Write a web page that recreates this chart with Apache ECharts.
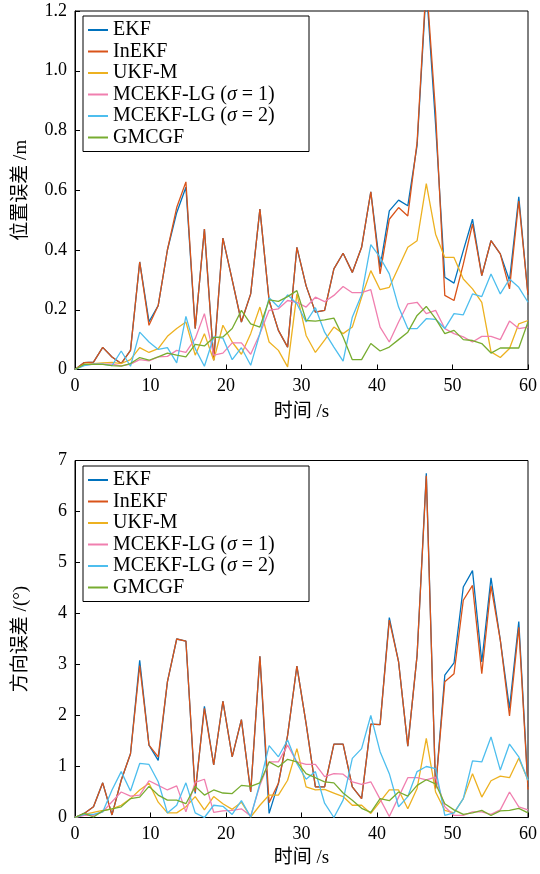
<!DOCTYPE html>
<html>
<head>
<meta charset="utf-8">
<title>误差对比</title>
<script src="https://cdn.jsdelivr.net/npm/echarts@6/dist/echarts.min.js"></script>
<style>
  html, body { margin: 0; padding: 0; background: #fff; }
  #main { width: 540px; height: 874px; }
</style>
</head>
<body>
<div id="main"></div>
<script>
// 采样时间 (s)
var times = [0, 1.22, 2.45, 3.67, 4.9, 6.12, 7.35, 8.57, 9.8, 11.02, 12.24, 13.47, 14.69, 15.92, 17.14, 18.37,
  19.59, 20.82, 22.04, 23.27, 24.49, 25.71, 26.94, 28.16, 29.39, 30.61, 31.84, 33.06, 34.29, 35.51, 36.73, 37.96,
  39.18, 40.41, 41.63, 42.86, 44.08, 45.31, 46.53, 47.76, 48.98, 50.2, 51.43, 52.65, 53.88, 55.1, 56.33, 57.55, 58.78, 60];

var names = ['EKF', 'InEKF', 'UKF-M', 'MCEKF-LG (σ = 1)', 'MCEKF-LG (σ = 2)', 'GMCGF'];
var colors = ['#0072BD', '#D95319', '#EDB120', '#F07FAF', '#4DBEEE', '#77AC30'];

// 位置误差 /m
var posEKF = [0, 0.023, 0.025, 0.074, 0.042, 0.02, 0.064, 0.36, 0.16, 0.214, 0.40, 0.525, 0.61, 0.137, 0.47, 0.031,
  0.44, 0.30, 0.159, 0.253, 0.537, 0.231, 0.131, 0.075, 0.409, 0.28, 0.192, 0.198, 0.337, 0.389, 0.325, 0.409,
  0.595, 0.342, 0.531, 0.567, 0.548, 0.75, 1.28, 0.82, 0.309, 0.289, 0.398, 0.503, 0.314, 0.431, 0.387, 0.298, 0.578, 0.25];
var posInEKF = [0, 0.023, 0.025, 0.074, 0.042, 0.02, 0.064, 0.36, 0.148, 0.214, 0.40, 0.542, 0.628, 0.137, 0.47, 0.031,
  0.44, 0.30, 0.159, 0.253, 0.537, 0.231, 0.131, 0.075, 0.409, 0.28, 0.192, 0.198, 0.337, 0.389, 0.325, 0.409,
  0.595, 0.32, 0.503, 0.542, 0.514, 0.76, 1.3, 0.86, 0.248, 0.231, 0.353, 0.487, 0.314, 0.431, 0.387, 0.27, 0.564, 0.25];
var posUKF = [0, 0.017, 0.02, 0.022, 0.024, 0.02, 0.033, 0.073, 0.057, 0.07, 0.111, 0.137, 0.159, 0.048, 0.12, 0.031,
  0.148, 0.092, 0.051, 0.12, 0.209, 0.092, 0.064, 0.009, 0.253, 0.114, 0.057, 0.098, 0.142, 0.12, 0.142, 0.242,
  0.331, 0.267, 0.275, 0.342, 0.409, 0.431, 0.622, 0.453, 0.375, 0.375, 0.303, 0.27, 0.225, 0.059, 0.04, 0.07, 0.153, 0.164];
var posMC1 = [0, 0.015, 0.018, 0.018, 0.018, 0.012, 0.018, 0.033, 0.029, 0.042, 0.044, 0.064, 0.057, 0.103, 0.187, 0.048,
  0.055, 0.089, 0.089, 0.051, 0.12, 0.198, 0.203, 0.231, 0.225, 0.209, 0.242, 0.227, 0.248, 0.278, 0.257, 0.257,
  0.267, 0.142, 0.092, 0.159, 0.22, 0.225, 0.187, 0.198, 0.137, 0.12, 0.109, 0.092, 0.111, 0.111, 0.1, 0.162, 0.137, 0.142];
var posMC2 = [0, 0.013, 0.018, 0.018, 0.013, 0.062, 0.011, 0.125, 0.092, 0.067, 0.073, 0.022, 0.178, 0.07, 0.011, 0.109,
  0.105, 0.033, 0.073, 0.014, 0.12, 0.24, 0.209, 0.25, 0.22, 0.159, 0.207, 0.125, 0.075, 0.028, 0.175, 0.25,
  0.418, 0.375, 0.32, 0.209, 0.137, 0.137, 0.17, 0.168, 0.137, 0.187, 0.183, 0.253, 0.244, 0.32, 0.253, 0.303, 0.275, 0.225];
var posGM = [0, 0.017, 0.017, 0.017, 0.013, 0.011, 0.02, 0.04, 0.031, 0.042, 0.055, 0.048, 0.042, 0.084, 0.079, 0.107,
  0.109, 0.137, 0.198, 0.153, 0.142, 0.233, 0.228, 0.244, 0.264, 0.164, 0.162, 0.166, 0.172, 0.109, 0.033, 0.033,
  0.087, 0.062, 0.075, 0.1, 0.125, 0.181, 0.211, 0.17, 0.12, 0.131, 0.1, 0.097, 0.087, 0.055, 0.072, 0.072, 0.072, 0.159];

// 方向误差 /(°)
var attEKF = [0, 0.08, 0.21, 0.68, 0.05, 0.73, 1.25, 3.08, 1.42, 1.12, 2.66, 3.5, 3.46, 0.47, 2.18, 1.03,
  2.28, 1.19, 1.92, 0.5, 3.16, 0.08, 0.67, 1.61, 2.97, 1.84, 0.6, 0.6, 1.44, 1.44, 0.6, 0.37,
  1.83, 1.82, 3.92, 3.05, 1.4, 3.18, 6.75, 0.57, 2.79, 3.03, 4.52, 4.84, 3.05, 4.7, 3.48, 2.14, 3.84, 0.6];
var attInEKF = [0, 0.08, 0.21, 0.68, 0.05, 0.73, 1.25, 2.98, 1.42, 1.19, 2.66, 3.5, 3.46, 0.5, 2.14, 1.03,
  2.28, 1.19, 1.92, 0.5, 3.16, 0.29, 0.67, 1.61, 2.97, 1.84, 0.6, 0.6, 1.44, 1.44, 0.6, 0.37,
  1.83, 1.82, 3.87, 3.05, 1.4, 3.18, 6.7, 0.57, 2.66, 2.82, 4.26, 4.55, 2.82, 4.54, 3.48, 1.99, 3.73, 0.55];
var attUKF = [0, 0.06, 0.1, 0.14, 0.17, 0.24, 0.37, 0.54, 0.67, 0.3, 0.09, 0.09, 0.21, 0.41, 0.15, 0.41,
  0.27, 0.16, 0.3, 0.01, 0.24, 0.44, 0.44, 0.73, 1.35, 0.6, 0.54, 0.55, 0.48, 0.41, 0.24, 0.24,
  0.08, 0.31, 0.54, 0.54, 0.17, 0.57, 1.55, 0.5, 0.14, 0.09, 0.37, 0.86, 0.4, 0.72, 0.81, 0.78, 1.16, 0.73];
var attMC1 = [0, 0.04, 0.04, 0.11, 0.31, 0.5, 0.42, 0.44, 0.72, 0.63, 0.54, 0.62, 0.11, 0.69, 0.75, 0.1,
  0.13, 0.14, 0.17, 0.03, 0.63, 1.09, 1.09, 1.42, 1.09, 1.04, 1.04, 0.8, 0.86, 0.85, 0.7, 0.65,
  0.7, 0.36, 0.02, 0.4, 0.78, 0.78, 0.74, 0.79, 0.21, 0.04, 0.04, 0.11, 0.11, 0.06, 0.15, 0.5, 0.21, 0.15];
var attMC2 = [0, 0.06, 0.06, 0.11, 0.54, 0.9, 0.52, 1.06, 1.04, 0.7, 0.09, 0.24, 0.68, 0.09, 0.0, 0.24,
  0.22, 0.06, 0.33, 0.01, 0.67, 1.41, 1.19, 1.52, 1.06, 0.75, 0.9, 0.28, 0.0, 0.34, 1.16, 1.35,
  2.0, 1.29, 0.86, 0.21, 0.41, 0.9, 1.0, 0.96, 0.04, 0.09, 0.37, 1.11, 1.09, 1.58, 0.93, 1.44, 1.19, 0.73];
var attGM = [0, 0.08, 0.01, 0.13, 0.17, 0.21, 0.37, 0.4, 0.61, 0.44, 0.34, 0.34, 0.27, 0.61, 0.44, 0.54,
  0.48, 0.47, 0.63, 0.61, 0.68, 1.09, 0.99, 1.14, 1.09, 0.86, 0.78, 0.7, 0.68, 0.48, 0.34, 0.18,
  0.1, 0.37, 0.33, 0.5, 0.42, 0.63, 0.74, 0.66, 0.27, 0.15, 0.06, 0.09, 0.14, 0.04, 0.13, 0.14, 0.18, 0.09];

var posAll = [posEKF, posInEKF, posUKF, posMC1, posMC2, posGM];
var attAll = [attEKF, attInEKF, attUKF, attMC1, attMC2, attGM];

var font = "'Liberation Serif', 'Noto Sans CJK SC', serif";

var dom = document.getElementById('main');
var myChart = echarts.init(dom);

function makeXAxis(idx) {
    return {
        type: 'value', gridIndex: idx, min: 0, max: 60, interval: 10,
        name: '时间 /s', nameLocation: 'middle', nameGap: idx == 0 ? 33 : 31,
        nameTextStyle: {fontFamily: font, fontSize: 19, color: '#000'},
        axisLine: {lineStyle: {color: '#000', width: 1}},
        axisTick: {inside: true, length: 5, lineStyle: {color: '#000'}},
        axisLabel: {fontFamily: font, fontSize: 18, color: '#000', margin: 8},
        splitLine: {show: false}
    };
}

function makeYAxis(idx, name, max, interval) {
    return {
        type: 'value', gridIndex: idx, min: 0, max: max, interval: interval,
        name: name, nameLocation: 'middle', nameGap: 44,
        nameTextStyle: {fontFamily: font, fontSize: 19, color: '#000'},
        axisLine: {show: true, lineStyle: {color: '#000', width: 1}},
        axisTick: {inside: true, length: 5, lineStyle: {color: '#000'}},
        axisLabel: {
            fontFamily: font, fontSize: 18, color: '#000', margin: 8,
            formatter: function (v) {
                if (v == 0) return '0';
                return interval < 1 ? v.toFixed(1) : String(v);
            }
        },
        splitLine: {show: false}
    };
}

function makeLegend(top) {
    return {
        left: 83, top: top, orient: 'vertical',
        data: names,
        icon: 'rect', itemWidth: 20, itemHeight: 2, itemGap: 1.5,
        padding: [4, 3, 4, 5],
        backgroundColor: '#fff', borderColor: '#000', borderWidth: 1, borderRadius: 0,
        selectedMode: false,
        formatter: function (name) {
            return name.replace('σ', '{i|σ}');
        },
        textStyle: {
            fontFamily: font, fontSize: 20, color: '#000', lineHeight: 20, width: 193,
            rich: {i: {fontFamily: font, fontSize: 20, fontStyle: 'italic', lineHeight: 20}}
        }
    };
}

var series = [];
function addSeries(arrs, idx) {
    for (var k = 0; k < arrs.length; k++) {
        var arr = arrs[k];
        series.push({
            name: names[k], type: 'line',
            xAxisIndex: idx, yAxisIndex: idx,
            showSymbol: false, symbol: 'none',
            color: colors[k],
            lineStyle: {width: 1.3, color: colors[k]},
            data: times.map(function (t, i) { return [t, arr[i]]; }),
            animation: false
        });
    }
}
addSeries(posAll, 0);
addSeries(attAll, 1);

var option = {
    backgroundColor: '#fff',
    animation: false,
    grid: [
        {left: 75, right: 12, top: 11, height: 358.5, show: true, borderColor: '#000', borderWidth: 1},
        {left: 75, right: 12, top: 460.5, height: 357, show: true, borderColor: '#000', borderWidth: 1}
    ],
    xAxis: [makeXAxis(0), makeXAxis(1)],
    yAxis: [makeYAxis(0, '位置误差 /m', 1.2, 0.2), makeYAxis(1, '方向误差 /(°)', 7, 1)],
    legend: [makeLegend(16), makeLegend(466)],
    series: series
};

if (option && typeof option === 'object') {
    myChart.setOption(option, true);
}
</script>
</body>
</html>
